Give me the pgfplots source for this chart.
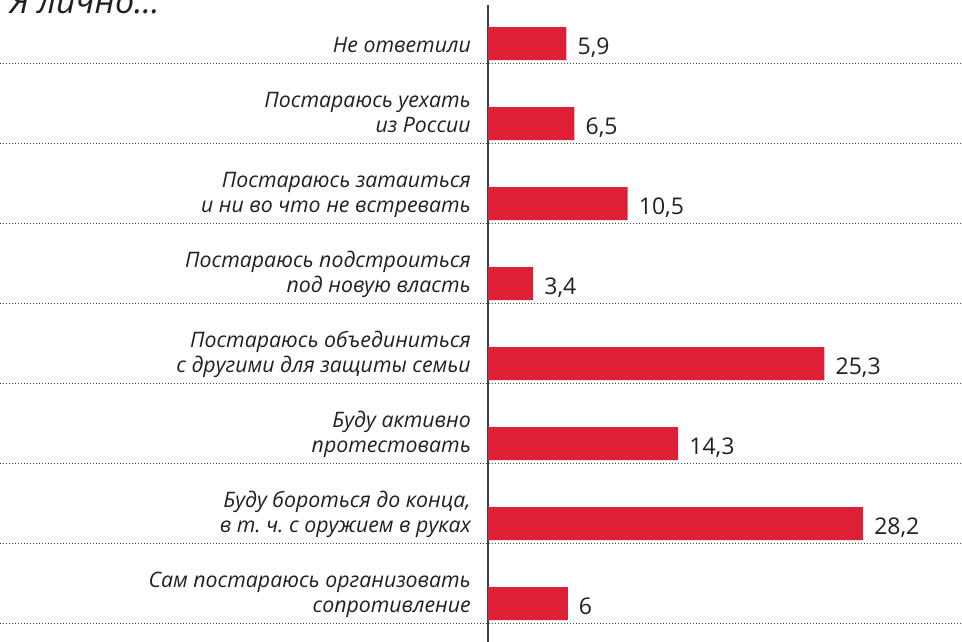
\documentclass[border=0pt]{standalone}
\usepackage{fontspec}
\setmainfont{Open Sans}
\usepackage{pgfplots}
\pgfplotsset{compat=1.18}
\frenchspacing

\definecolor{barred}{RGB}{221,32,54}
\definecolor{txt}{RGB}{35,31,32}
\definecolor{axisgray}{RGB}{64,64,64}

% two-line label, baseline on the last line
\newcommand{\two}[2]{\begin{tabular}[b]{@{}r@{}}#1\\#2\end{tabular}}

\begin{document}
\begin{tikzpicture}[x=1pt,y=1pt]
\useasboundingbox (0pt,0pt) rectangle (962pt,642pt);

\node[anchor=base west, font=\fontsize{34}{34}\selectfont\itshape, text=txt] at (6pt,628pt) {Я лично...};

\begin{axis}[
    at={(488pt,0pt)}, anchor=south west,
    width=474pt, height=642pt, scale only axis,
    xbar, bar width=33pt,
    xmin=0, xmax=35.64,
    ymin=-0.544, ymax=7.481,
    y dir=reverse,
    axis x line=none,
    axis y line*=left,
    y axis line style={draw=axisgray, line width=2.5pt, shorten <=5pt},
    ytick={0,...,7},
    major tick length=0pt,
    yticklabels={
        {Не ответили},
        {\two{Постараюсь уехать}{из России}},
        {\two{Постараюсь затаиться}{и ни во что не встревать}},
        {\two{Постараюсь подстроиться}{под новую власть}},
        {\two{Постараюсь объединиться}{с другими для защиты семьи}},
        {\two{Буду активно}{протестовать}},
        {\two{Буду бороться до конца,}{в т.~ч. с оружием в руках}},
        {\two{Сам постараюсь организовать}{сопротивление}}
    },
    yticklabel style={anchor=base east, inner sep=0pt, xshift=-17pt, yshift=-9pt,
        font=\fontsize{21.3}{25}\selectfont\itshape, text=txt},
    nodes near coords,
    nodes near coords style={anchor=base west, inner sep=0pt, xshift=11pt, yshift=-11pt,
        font=\fontsize{23}{23}\selectfont, text=txt,
        /pgf/number format/assume math mode=true,
        /pgf/number format/use comma},
    clip=false,
]

\addplot[draw=none, fill=barred] coordinates {
(5.9,0) (6.5,1) (10.5,2) (3.4,3) (25.3,4) (14.3,5) (28.2,6) (6.0,7)
};

% dotted separators between rows
\pgfplotsinvokeforeach{0,...,7}{
    \draw[gray!60!black, line width=1pt, dash pattern=on 1pt off 2pt]
        (axis cs:-36.7,#1+0.244) -- (axis cs:35.64,#1+0.244);
}

\end{axis}
\end{tikzpicture}
\end{document}
